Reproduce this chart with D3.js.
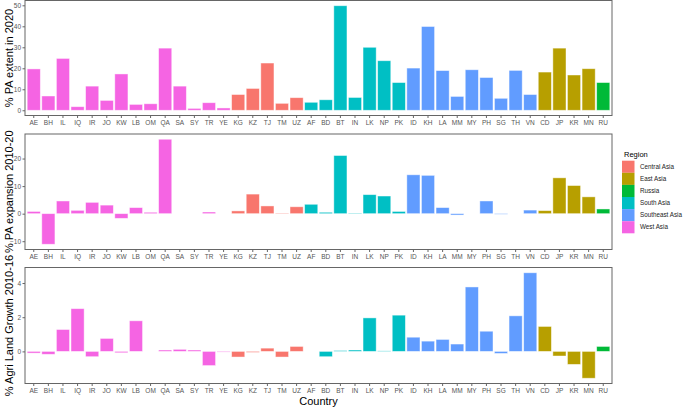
<!DOCTYPE html>
<html><head><meta charset="utf-8">
<script src="https://cdn.jsdelivr.net/npm/d3@7"></script>
<style>body{margin:0;background:#fff}svg{display:block;font-family:"Liberation Sans",Arial,sans-serif}</style>
</head><body><svg id="c" width="685" height="407"></svg>
<script>
const countries = ["AE","BH","IL","IQ","IR","JO","KW","LB","OM","QA","SA","SY","TR","YE","KG","KZ","TJ","TM","UZ","AF","BD","BT","IN","LK","NP","PK","ID","KH","LA","MM","MY","PH","SG","TH","VN","CD","JP","KR","MN","RU"];
const regions = ["West Asia","West Asia","West Asia","West Asia","West Asia","West Asia","West Asia","West Asia","West Asia","West Asia","West Asia","West Asia","West Asia","West Asia","Central Asia","Central Asia","Central Asia","Central Asia","Central Asia","South Asia","South Asia","South Asia","South Asia","South Asia","South Asia","South Asia","Southeast Asia","Southeast Asia","Southeast Asia","Southeast Asia","Southeast Asia","Southeast Asia","Southeast Asia","Southeast Asia","Southeast Asia","East Asia","East Asia","East Asia","East Asia","Russia"];
const paExtent2020 = [19.7,6.8,24.7,1.7,11.5,4.7,17.3,2.8,3.1,29.6,11.5,0.9,3.6,1.1,7.5,10.4,22.5,3.3,6.0,3.8,5.0,49.8,6.1,30.0,23.6,13.2,20.1,39.9,18.9,6.6,19.3,15.6,5.7,19.0,7.5,18.2,29.6,16.8,19.8,13.2];
const paExpansion = [0.8,-11.1,4.6,1.2,4.1,3.1,-1.7,2.2,0.5,27.0,0,0,0.6,0,1.0,7.1,2.8,0.2,2.5,3.4,0.5,21.1,0.2,6.9,6.4,0.8,14.1,13.9,2.2,-0.5,0,4.6,-0.2,0,1.3,1.1,13.0,10.2,6.1,1.7];
const agriGrowth = [-0.1,-0.17,1.28,2.5,-0.31,0.76,-0.08,1.79,0,0.08,0.12,0.08,-0.83,-0.04,-0.33,-0.06,0.19,-0.33,0.29,0,-0.31,0.05,0.08,1.96,0.03,2.12,0.83,0.6,0.7,0.43,3.77,1.18,-0.12,2.08,4.6,1.46,-0.27,-0.76,-1.57,0.29];
const yTicks1 = [0,10,20,30,40,50];
const yTicks2 = [-10,0,10,20];
const yTicks3 = [0,2,4];
const legendRegions = ["Central Asia","East Asia","Russia","South Asia","Southeast Asia","West Asia"];
const legendColors = ["#F8766D","#B79F00","#00BA38","#00BFC4","#619CFF","#F564E3"];

const svg = d3.select("#c");
const color = d3.scaleOrdinal().domain(legendRegions).range(legendColors);
const X0 = 25, X1 = 612;
const x = d3.scaleBand().domain(countries).range([X0, X1]).paddingInner(0.1).paddingOuter(0.15);

const panels = [
  {vals: paExtent2020, ticks: yTicks1, top: 0.5, bottom: 115.5, title: "% PA extent in 2020"},
  {vals: paExpansion, ticks: yTicks2, top: 134, bottom: 249.5, title: "% PA expansion 2010-20"},
  {vals: agriGrowth, ticks: yTicks3, top: 267.5, bottom: 383.5, title: "% Agri Land Growth 2010-16"}
];

panels.forEach(p => {
  const mn = Math.min(0, d3.min(p.vals)), mx = Math.max(0, d3.max(p.vals));
  const pad = (mx - mn) * 0.05;
  const y = d3.scaleLinear().domain([mn - pad, mx + pad]).range([p.bottom, p.top]);
  const g = svg.append("g");
  const data = countries.map((c, i) => ({c, v: p.vals[i], r: regions[i]}));
  g.selectAll("rect.bar").data(data.filter(d => d.v !== 0)).enter().append("rect")
    .attr("class", "bar")
    .attr("x", d => x(d.c))
    .attr("width", x.bandwidth())
    .attr("y", d => y(Math.max(0, d.v)))
    .attr("height", d => Math.abs(y(d.v) - y(0)))
    .attr("fill", d => color(d.r))
    .attr("stroke", "#ffffff").attr("stroke-opacity", 0.55).attr("stroke-width", 0.8);
  // border
  g.append("rect").attr("x", X0).attr("y", p.top).attr("width", X1 - X0).attr("height", p.bottom - p.top)
    .attr("fill", "none").attr("stroke", "#666").attr("stroke-width", 1);
  // y axis
  const ya = g.append("g").attr("transform", `translate(${X0},0)`)
    .call(d3.axisLeft(y).tickValues(p.ticks).tickSize(2.5).tickPadding(1.5).tickFormat(d3.format("d")));
  ya.select(".domain").remove();
  ya.selectAll("line").attr("stroke", "#666");
  ya.selectAll("text").attr("fill", "#555").style("font-size", "6.5px");
  // x axis
  const xa = g.append("g").attr("transform", `translate(0,${p.bottom})`)
    .call(d3.axisBottom(x).tickSize(2.5).tickPadding(2));
  xa.select(".domain").remove();
  xa.selectAll("line").attr("stroke", "#666");
  xa.selectAll("text").attr("fill", "#555").style("font-size", "6.5px");
  // title
  const cy = (p.top + p.bottom) / 2;
  svg.append("text").attr("transform", `translate(12.5,${cy}) rotate(-90)`)
    .attr("text-anchor", "middle").style("font-size", "11px").attr("fill", "#000").text(p.title);
});

svg.append("text").attr("x", (X0 + X1) / 2).attr("y", 404.5).attr("text-anchor", "middle")
  .style("font-size", "11px").text("Country");

// legend
const lg = svg.append("g");
lg.append("text").attr("x", 624).attr("y", 157).style("font-size", "7.5px").text("Region");
legendRegions.forEach((r, i) => {
  lg.append("rect").attr("x", 622).attr("y", 160.7 + i * 12.1).attr("width", 12.5).attr("height", 12.1).attr("fill", legendColors[i]);
  lg.append("text").attr("x", 640).attr("y", 160.7 + i * 12.1 + 6.05).attr("dy", "0.35em")
    .style("font-size", "6.3px").attr("fill", "#222").text(r);
});
</script></body></html>
